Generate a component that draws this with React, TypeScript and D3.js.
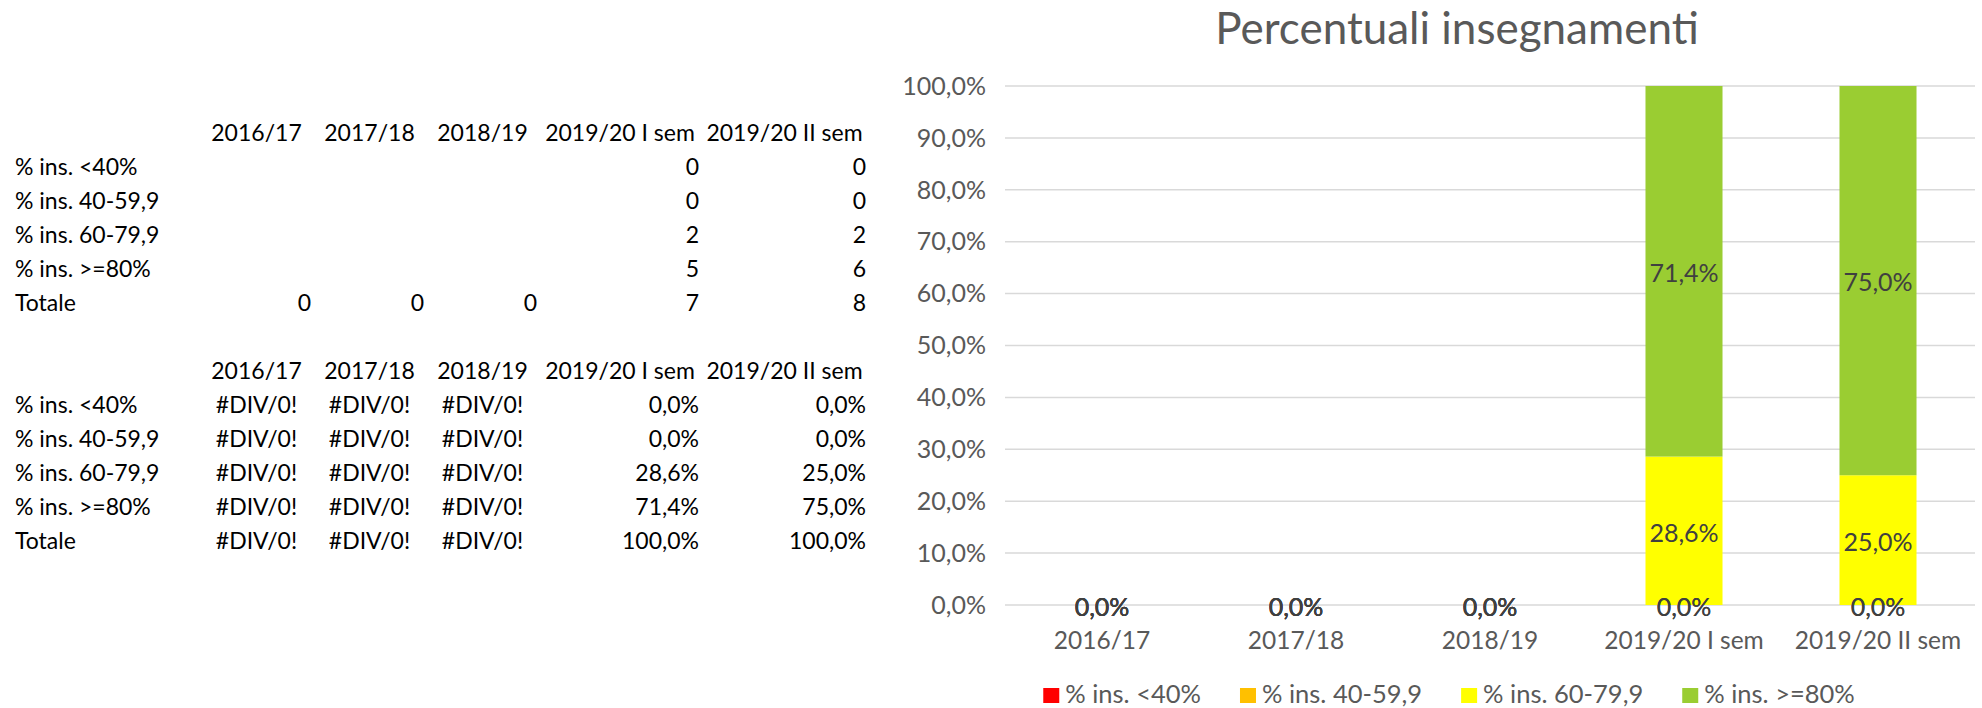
import React, { useEffect, useRef } from 'react';
import * as d3 from 'd3';

const categories = ['2016/17', '2017/18', '2018/19', '2019/20 I sem', '2019/20 II sem'];
const seriesNames = ['% ins. <40%', '% ins. 40-59,9', '% ins. 60-79,9', '% ins. >=80%'];
const seriesColors = ['#FF0000', '#FFC000', '#FFFF00', '#9ACD32'];

// table 1: counts (null = empty cell)
const countLt40 = [null, null, null, 0, 0];
const count40 = [null, null, null, 0, 0];
const count60 = [null, null, null, 2, 2];
const countGe80 = [null, null, null, 5, 6];
const countTot = [0, 0, 0, 7, 8];

// table 2: percentages (null = #DIV/0!)
const pctLt40 = [null, null, null, 0.0, 0.0];
const pct40 = [null, null, null, 0.0, 0.0];
const pct60 = [null, null, null, 0.286, 0.25];
const pctGe80 = [null, null, null, 0.714, 0.75];
const pctTot = [null, null, null, 1.0, 1.0];

const W = 1982, H = 708;
const FONT = 'Lato, "Open Sans", sans-serif';

const App = () => {
  const svgRef = useRef(null);

  useEffect(() => {
    const svg = d3.select(svgRef.current);
    svg.selectAll('*').remove();

    const it = d3.formatLocale({ decimal: ',', thousands: '.', grouping: [3], currency: ['€', ''] });
    const fmtPct = it.format('.1%');

    // ---------- tables ----------
    const colEdges = [200, 313, 426, 539, 701, 868];
    const rowY = i => 141 + 34 * i;
    const tbl = svg.append('g').attr('font-family', FONT).attr('font-size', 23).attr('fill', '#000');

    const drawTable = (startRow, rows, cellText) => {
      tbl.append('g').selectAll('text')
        .data(categories)
        .join('text')
        .attr('x', (d, i) => (colEdges[i] + colEdges[i + 1]) / 2)
        .attr('y', rowY(startRow))
        .attr('text-anchor', 'middle')
        .text(d => d);

      rows.forEach((r, ri) => {
        const y = rowY(startRow + 1 + ri);
        tbl.append('text').attr('x', 15).attr('y', y).text(r.label);
        r.values.forEach((v, ci) => {
          const c = cellText(v);
          if (c.text === '') return;
          tbl.append('text')
            .attr('x', c.center ? (colEdges[ci] + colEdges[ci + 1]) / 2 : colEdges[ci + 1] - 2)
            .attr('y', y)
            .attr('text-anchor', c.center ? 'middle' : 'end')
            .text(c.text);
        });
      });
    };

    drawTable(0, [
      { label: seriesNames[0], values: countLt40 },
      { label: seriesNames[1], values: count40 },
      { label: seriesNames[2], values: count60 },
      { label: seriesNames[3], values: countGe80 },
      { label: 'Totale', values: countTot },
    ], v => ({ text: v == null ? '' : String(v), center: false }));

    drawTable(7, [
      { label: seriesNames[0], values: pctLt40 },
      { label: seriesNames[1], values: pct40 },
      { label: seriesNames[2], values: pct60 },
      { label: seriesNames[3], values: pctGe80 },
      { label: 'Totale', values: pctTot },
    ], v => (v == null ? { text: '#DIV/0!', center: true } : { text: fmtPct(v), center: false }));

    // ---------- chart ----------
    const left = 1005, right = 1975, top = 86, bottom = 605;
    const x = d3.scaleBand().domain(categories).range([left, right]).paddingInner(0.603).paddingOuter(0.3015);
    const y = d3.scaleLinear().domain([0, 1]).range([bottom, top]);

    const chart = svg.append('g').attr('font-family', FONT);

    chart.append('text')
      .attr('x', 1457).attr('y', 44)
      .attr('text-anchor', 'middle')
      .attr('font-size', 44)
      .attr('fill', '#595959')
      .text('Percentuali insegnamenti');

    const ticks = y.ticks(10);
    chart.append('g').selectAll('line')
      .data(ticks)
      .join('line')
      .attr('x1', left).attr('x2', right)
      .attr('y1', d => y(d)).attr('y2', d => y(d))
      .attr('stroke', '#d9d9d9').attr('stroke-width', 1.5);

    chart.append('g').selectAll('text')
      .data(ticks)
      .join('text')
      .attr('x', 986).attr('y', d => y(d))
      .attr('dy', '0.35em')
      .attr('text-anchor', 'end')
      .attr('font-size', 25)
      .attr('fill', '#595959')
      .text(d => fmtPct(d));

    const keys = ['lt40', 'r40', 'r60', 'ge80'];
    const pctSeries = [pctLt40, pct40, pct60, pctGe80];
    const rows = categories.map((c, i) => {
      const r = { cat: c };
      keys.forEach((k, s) => { r[k] = pctSeries[s][i] ?? 0; });
      return r;
    });
    const stacked = d3.stack().keys(keys)(rows);

    chart.append('g').selectAll('g')
      .data(stacked)
      .join('g')
      .attr('fill', (d, i) => seriesColors[i])
      .selectAll('rect')
      .data(d => d)
      .join('rect')
      .attr('x', d => x(d.data.cat))
      .attr('y', d => y(d[1]))
      .attr('width', x.bandwidth())
      .attr('height', d => y(d[0]) - y(d[1]));

    chart.append('g').selectAll('g')
      .data(stacked)
      .join('g')
      .selectAll('text')
      .data(d => d)
      .join('text')
      .attr('x', d => x(d.data.cat) + x.bandwidth() / 2)
      .attr('y', d => y((d[0] + d[1]) / 2) + 2)
      .attr('dy', '0.35em')
      .attr('text-anchor', 'middle')
      .attr('font-size', 25)
      .attr('fill', '#404040')
      .text(d => fmtPct(d[1] - d[0]));

    chart.append('g').selectAll('text')
      .data(categories)
      .join('text')
      .attr('x', d => x(d) + x.bandwidth() / 2)
      .attr('y', 649)
      .attr('text-anchor', 'middle')
      .attr('font-size', 24.5)
      .attr('fill', '#595959')
      .text(d => d);

    // legend
    const legend = chart.append('g');
    let cx = 0;
    seriesNames.forEach((name, i) => {
      const item = legend.append('g').attr('transform', `translate(${cx},0)`);
      item.append('rect').attr('x', 0).attr('y', 688).attr('width', 16).attr('height', 15).attr('fill', seriesColors[i]);
      const t = item.append('text')
        .attr('x', 22).attr('y', 703)
        .attr('font-size', 25.5)
        .attr('fill', '#595959')
        .text(name);
      const w = t.node().getComputedTextLength();
      cx += 22 + w + (i < seriesNames.length - 1 ? 39 : 0);
    });
    legend.attr('transform', `translate(${1449 - cx / 2},0)`);
  }, []);

  return (
    <svg
      ref={svgRef}
      width={W}
      height={H}
      style={{ position: 'absolute', left: 0, top: 0, background: '#fff' }}
    />
  );
};

export default App;
